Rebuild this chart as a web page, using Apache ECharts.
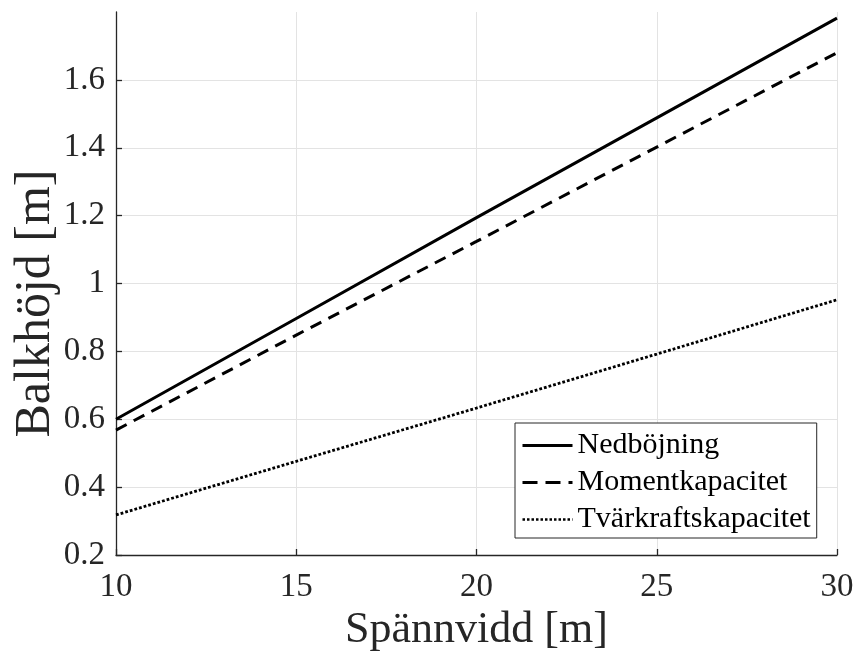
<!DOCTYPE html>
<html>
<head>
<meta charset="utf-8">
<script src="https://cdn.jsdelivr.net/npm/echarts@6/dist/echarts.min.js"></script>
<style>
html,body{margin:0;padding:0;background:#fff;}
#chart{width:859px;height:661px;}
</style>
</head>
<body>
<div id="chart"></div>
<script>
// Span (m)
const spans = [10, 15, 20, 25, 30];
// Beam height (m)
const nedbojning = [0.600, 0.897, 1.194, 1.488, 1.782];
const momentkapacitet = [0.568, 0.848, 1.124, 1.402, 1.680];
const tvarkraftskapacitet = [0.318, 0.476, 0.633, 0.792, 0.952];
const seriesNames = ['Nedböjning', 'Momentkapacitet', 'Tvärkraftskapacitet'];
const xTicks = [10, 15, 20, 25, 30];
const yTicks = [0.2, 0.4, 0.6, 0.8, 1, 1.2, 1.4, 1.6];

const pairs = arr => spans.map((x, i) => [x, arr[i]]);
const FONT = 'Liberation Serif';
const AX = '#262626';
const GRID = '#e3e3e3';
const solidStyle = {color: '#000', width: 3, type: 'solid'};
const dashStyle = {color: '#000', width: 3, type: [12, 8]};
const dotStyle = {color: '#000', width: 2.8, type: [2.8, 2]};

const chart = echarts.init(document.getElementById('chart'));
chart.setOption({
  animation: false,
  backgroundColor: '#fff',
  grid: {left: 116, right: 22, top: 12, bottom: 106, containLabel: false, outerBoundsMode: 'none'},
  xAxis: {
    type: 'value', min: 10, max: 30, interval: 5,
    name: 'Spännvidd [m]', nameLocation: 'middle', nameGap: 46,
    nameTextStyle: {fontFamily: FONT, fontSize: 44, color: AX},
    axisLine: {show: true, onZero: false, lineStyle: {color: AX, width: 1.3}},
    axisTick: {show: true, inside: true, length: 6, lineStyle: {color: AX, width: 1.3}},
    axisLabel: {fontFamily: FONT, fontSize: 33, color: AX, margin: 16,
      formatter: v => xTicks.includes(v) ? String(v) : ''},
    splitLine: {show: true, lineStyle: {color: GRID, width: 1}}
  },
  yAxis: {
    type: 'value', min: 0.2, max: 1.8, interval: 0.2,
    name: 'Balkhöjd [m]', nameLocation: 'middle', nameGap: 55, nameMoveOverlap: false,
    nameTextStyle: {fontFamily: FONT, fontSize: 50, color: AX, padding: [0, 40, 0, 0]},
    axisLine: {show: true, onZero: false, lineStyle: {color: AX, width: 1.3}},
    axisTick: {show: true, inside: true, length: 6, lineStyle: {color: AX, width: 1.3}},
    axisLabel: {fontFamily: FONT, fontSize: 33, color: AX, margin: 11, showMaxLabel: false,
      formatter: v => {
        const r = Math.round(v * 10) / 10;
        return yTicks.some(t => Math.abs(t - r) < 1e-9) ? String(r) : '';
      }},
    splitLine: {show: true, lineStyle: {color: [GRID, GRID, GRID, GRID, GRID, GRID, GRID, GRID, 'rgba(0,0,0,0)'], width: 1}}
  },
  legend: {
    orient: 'vertical', left: 515, top: 423,
    backgroundColor: '#fff', borderColor: AX, borderWidth: 1,
    padding: [7, 6, 3, 6],
    itemWidth: 50, itemHeight: 14, itemGap: 6,
    itemStyle: {opacity: 0},
    textStyle: {fontFamily: FONT, fontSize: 30, color: '#000', lineHeight: 31},
    data: [
      {name: seriesNames[0], lineStyle: solidStyle},
      {name: seriesNames[1], lineStyle: {color: '#000', width: 3, type: [15, 8]}},
      {name: seriesNames[2], lineStyle: {color: '#000', width: 2.5, type: [2.5, 2]}}
    ]
  },
  series: [
    {name: seriesNames[0], type: 'line', data: pairs(nedbojning), showSymbol: false, symbol: 'none',
      lineStyle: solidStyle, itemStyle: {color: '#000'}},
    {name: seriesNames[1], type: 'line', data: pairs(momentkapacitet), showSymbol: false, symbol: 'none',
      lineStyle: dashStyle, itemStyle: {color: '#000'}},
    {name: seriesNames[2], type: 'line', data: pairs(tvarkraftskapacitet), showSymbol: false, symbol: 'none',
      lineStyle: dotStyle, itemStyle: {color: '#000'}}
  ]
});
</script>
</body>
</html>
